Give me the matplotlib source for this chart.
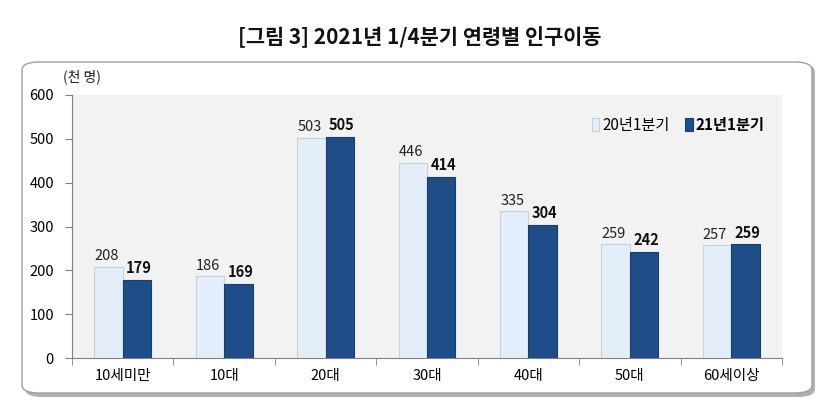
import matplotlib
matplotlib.use("Agg")
import matplotlib.pyplot as plt
from matplotlib.patches import FancyBboxPatch
import numpy as np

plt.rcParams['font.family'] = ['Noto Sans CJK KR', 'DejaVu Sans']

categories = ["10세미만", "10대", "20대", "30대", "40대", "50대", "60세이상"]
series_names = ["20년1분기", "21년1분기"]
values_2020 = [208, 186, 503, 446, 335, 259, 257]
values_2021 = [179, 169, 505, 414, 304, 242, 259]
yticks = [0, 100, 200, 300, 400, 500, 600]

W, H = 840, 417
fig = plt.figure(figsize=(W / 100, H / 100), dpi=100)
fig.patch.set_facecolor("white")

# outer rounded frame with shadow
shadow = FancyBboxPatch((25 / W, 1 - 397 / H), 790 / W, 333 / H,
                        boxstyle="round,pad=0,rounding_size=0.02",
                        transform=fig.transFigure, facecolor="#b0b0b0",
                        edgecolor="none", zorder=0)
frame = FancyBboxPatch((22 / W, 1 - 393 / H), 790 / W, 331 / H,
                       boxstyle="round,pad=0,rounding_size=0.02",
                       transform=fig.transFigure, facecolor="white",
                       edgecolor="#a0a0a0", linewidth=1.0, zorder=1)
fig.patches.extend([shadow, frame])

fig.text(0.5, 1 - 37 / H, "[그림 3] 2021년 1/4분기 연령별 인구이동",
         ha="center", va="center", fontsize=15, fontweight="bold", color="#111111")

ax = fig.add_axes([72 / W, 1 - 358 / H, 710 / W, 263 / H], zorder=2)
ax.set_facecolor("#f2f2f2")

x = np.arange(len(categories))
bw = 0.28
b1 = ax.bar(x - bw / 2, values_2020, bw, color="#e4eefa", edgecolor="#c8d0da",
            linewidth=0.8, label=series_names[0], zorder=3)
b2 = ax.bar(x + bw / 2, values_2021, bw, color="#1f4d87", edgecolor="#173d6e",
            linewidth=0.8, label=series_names[1], zorder=3)

for xi, v in zip(x, values_2020):
    ax.text(xi - bw / 2 - 0.02, v + 8, str(v), ha="center", va="bottom",
            fontsize=10.5, color="#222222")
for xi, v in zip(x, values_2021):
    ax.text(xi + bw / 2 + 0.02, v + 8, str(v), ha="center", va="bottom",
            fontsize=10.5, fontweight="bold", color="#111111")

ax.set_xlim(-0.5, len(categories) - 0.5)
ax.set_ylim(0, 600)
ax.set_yticks(yticks)
ax.set_yticklabels([str(t) for t in yticks], fontsize=10.5)
ax.set_xticks(x)
ax.set_xticklabels(categories, fontsize=10.5)
ax.tick_params(axis="x", length=0, pad=8)
ax.set_xticks(np.arange(-0.5, len(categories), 1.0), minor=True)
ax.tick_params(axis="x", which="minor", length=5, color="#808080", direction="out")
ax.tick_params(axis="y", length=5, color="#808080", direction="out", pad=8)

for s in ["top", "right"]:
    ax.spines[s].set_visible(False)
ax.spines["left"].set_color("#808080")
ax.spines["bottom"].set_color("#808080")

fig.text(63 / W, 1 - 77 / H, "(천 명)", ha="left", va="center", fontsize=10, color="#222222")

leg = ax.legend(loc="upper right", bbox_to_anchor=(0.995, 0.97), ncol=2, frameon=False,
                fontsize=11, handlelength=0.5, handleheight=0.9, handletextpad=0.2,
                columnspacing=1.0)
for t, w in zip(leg.get_texts(), ["normal", "bold"]):
    t.set_fontweight(w)

fig.savefig("out.png", dpi=100, facecolor="white")
